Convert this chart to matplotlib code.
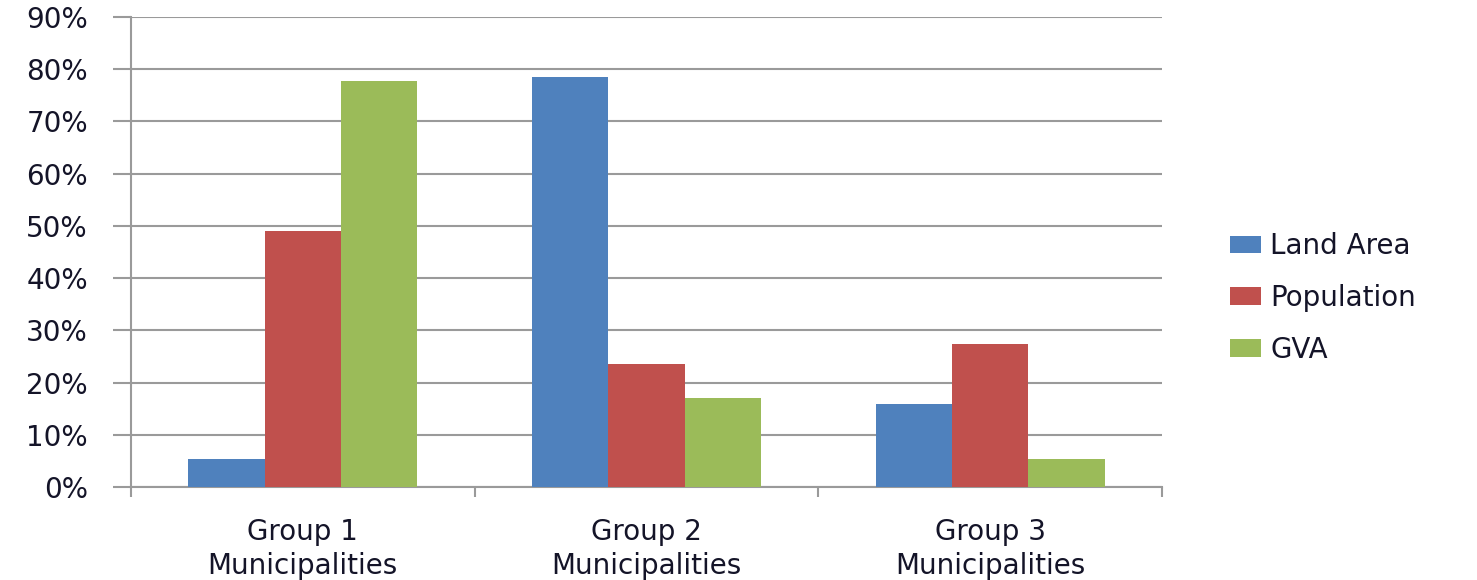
import matplotlib.pyplot as plt
import numpy as np
from matplotlib.ticker import FuncFormatter, FixedLocator

groups = ["Group 1\nMunicipalities", "Group 2\nMunicipalities", "Group 3\nMunicipalities"]
seriesNames = ["Land Area", "Population", "GVA"]
landArea = [5.4, 78.5, 15.9]
population = [49.1, 23.6, 27.3]
gva = [77.7, 17.1, 5.4]

colors = ["#4F81BD", "#C0504D", "#9BBB59"]
gridColor = "#9a9a9a"
textColor = "#141428"
fontSize = 20

fig = plt.figure(figsize=(14.77, 5.8), dpi=100)
axes = fig.add_axes([131 / 1477, 1 - 487 / 580, (1162 - 131) / 1477, (487 - 17) / 580])

x = np.arange(len(groups))
barWidth = 0.2222
for i, (name, values) in enumerate(zip(seriesNames, [landArea, population, gva])):
    axes.bar(x + (i - 1) * barWidth, values, width=barWidth, color=colors[i], label=name, zorder=3)

axes.set_xlim(-0.5, 2.5)
axes.set_ylim(0, 90)
axes.set_yticks(np.arange(0, 91, 10))
axes.yaxis.set_major_formatter(FuncFormatter(lambda v, _: f"{v:.0f}%"))
axes.grid(axis="y", color=gridColor, linewidth=1.5, zorder=0)

# category labels sit under the group centres, tick marks at the group boundaries
axes.set_xticks(x)
axes.set_xticklabels(groups, fontsize=fontSize, color=textColor, linespacing=1.3)
axes.xaxis.set_minor_locator(FixedLocator([-0.5, 0.5, 1.5, 2.5]))
axes.tick_params(axis="x", which="major", length=0, pad=22)
axes.tick_params(axis="x", which="minor", length=7, width=1.5, color=gridColor, direction="out")
axes.tick_params(axis="y", length=13, width=1.5, color=gridColor, pad=18, labelsize=fontSize, labelcolor=textColor)

for side in ["top", "right"]:
    axes.spines[side].set_visible(False)
for side in ["left", "bottom"]:
    axes.spines[side].set_color(gridColor)
    axes.spines[side].set_linewidth(1.5)

fig.legend(loc="center left", bbox_to_anchor=(1230 / 1477, 1 - 298 / 580), frameon=False, fontsize=fontSize,
           handlelength=1.1, handleheight=0.6, handletextpad=0.35, labelspacing=0.85,
           labelcolor=textColor, borderaxespad=0, borderpad=0)

plt.savefig("out.png", dpi=100)
